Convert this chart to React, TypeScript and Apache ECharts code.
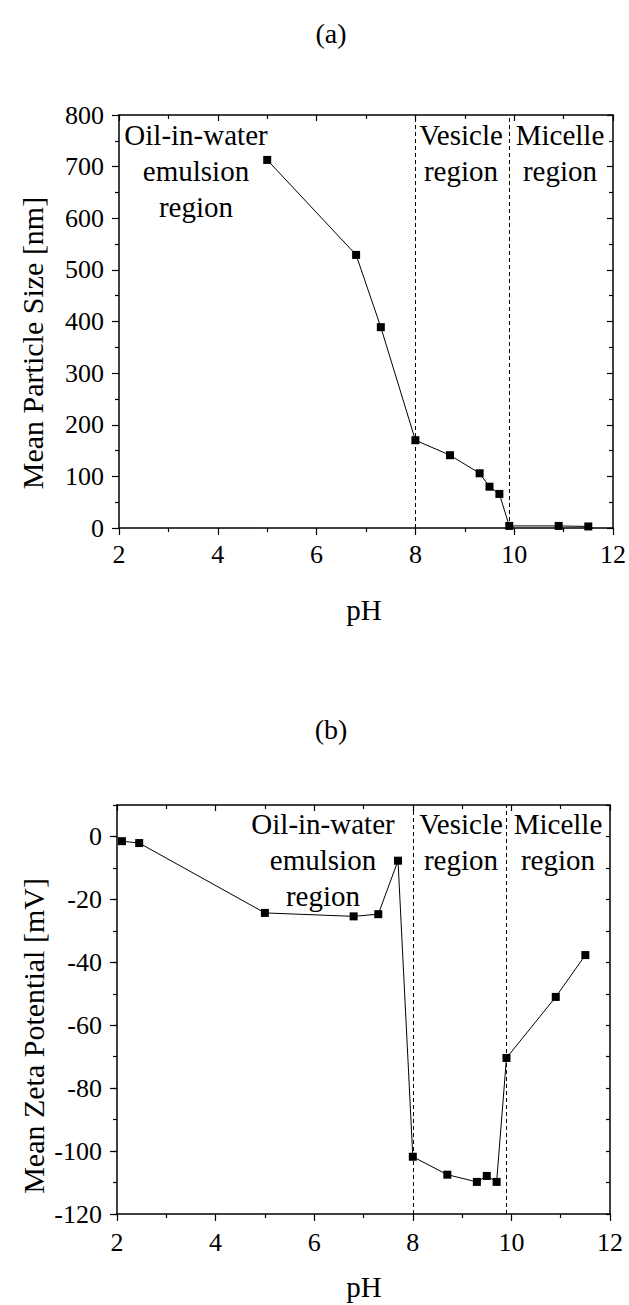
import React, { useEffect, useRef } from "react";
import * as echarts from "echarts";

const phA = [5.0, 6.8, 7.3, 8.0, 8.7, 9.3, 9.5, 9.7, 9.9, 10.9, 11.5];
const sizeA = [713, 529, 389, 170, 141, 106, 80, 66, 4, 4, 3];

const phB = [2.1, 2.45, 5.0, 6.8, 7.3, 7.7, 8.0, 8.7, 9.3, 9.5, 9.7, 9.9, 10.9, 11.5];
const zetaB = [-1.5, -2.1, -24.3, -25.4, -24.7, -7.7, -101.8, -107.5, -109.8, -107.9, -109.8, -70.4, -51.0, -37.7];

const boundaries = [8.0, 9.9];
const regionLabels = ["Oil-in-water\nemulsion\nregion", "Vesicle\nregion", "Micelle\nregion"];
const titles = ["(a)", "(b)"];
const yTitles = ["Mean Particle Size [nm]", "Mean Zeta Potential [mV]"];
const xTitle = "pH";

const FONT = "Liberation Serif";

export default function App() {
  const ref = useRef<HTMLDivElement>(null);
  useEffect(() => {
    if (!ref.current) return;
    const chart = echarts.init(ref.current, undefined, { renderer: "svg" });

    const axisLine = { show: true, onZero: false, lineStyle: { color: "#000", width: 1.5 } };
    const labelStyle = { color: "#000", fontFamily: FONT, fontSize: 26 };

    const xBottom = (gridIndex: number, margin: number) => ({
      type: "value",
      gridIndex,
      position: "bottom",
      min: 2,
      max: 12,
      interval: 2,
      axisLine,
      axisTick: { show: true, inside: false, length: 7, lineStyle: { color: "#000", width: 1.2 } },
      minorTick: { show: true, splitNumber: 2, length: 4, lineStyle: { color: "#000", width: 1.2 } },
      axisLabel: { ...labelStyle, margin },
      splitLine: { show: false },
      minorSplitLine: { show: false },
    });
    const xTop = (gridIndex: number) => ({
      type: "value",
      gridIndex,
      position: "top",
      min: 2,
      max: 12,
      interval: 2,
      axisLine,
      axisTick: { show: true, inside: true, length: 6, lineStyle: { color: "#000", width: 1.2 } },
      minorTick: { show: true, splitNumber: 2, length: 4, lineStyle: { color: "#000", width: 1.2 } },
      axisLabel: { show: false },
      splitLine: { show: false },
    });

    const option: any = {
      animation: false,
      backgroundColor: "#fff",
      grid: [
        { left: 119, right: 16, top: 115, height: 413 },
        { left: 117, right: 19, top: 805, height: 409 },
      ],
      xAxis: [xBottom(0, 13), xTop(0), xBottom(1, 15), xTop(1)],
      yAxis: [
        {
          type: "value",
          gridIndex: 0,
          position: "left",
          min: 0,
          max: 800,
          interval: 100,
          axisLine,
          axisTick: { show: true, inside: false, length: 7, lineStyle: { color: "#000", width: 1.2 } },
          minorTick: { show: true, splitNumber: 2, length: 4, lineStyle: { color: "#000", width: 1.2 } },
          axisLabel: { ...labelStyle, margin: 15 },
          splitLine: { show: false },
        },
        {
          type: "value",
          gridIndex: 0,
          position: "right",
          min: 0,
          max: 800,
          interval: 100,
          axisLine,
          axisTick: { show: true, inside: true, length: 6, lineStyle: { color: "#000", width: 1.2 } },
          minorTick: { show: true, splitNumber: 2, length: 4, lineStyle: { color: "#000", width: 1.2 } },
          axisLabel: { show: false },
          splitLine: { show: false },
        },
        {
          type: "value",
          gridIndex: 1,
          position: "left",
          min: -120,
          max: 10,
          interval: 20,
          axisLine,
          axisTick: { show: true, inside: false, length: 7, lineStyle: { color: "#000", width: 1.2 } },
          axisLabel: { ...labelStyle, margin: 15, showMaxLabel: false, formatter: (v: number) => (v > 0 ? "" : String(v)) },
          splitLine: { show: false },
        },
        {
          type: "value",
          gridIndex: 1,
          position: "left",
          min: -120,
          max: 10,
          interval: 10,
          axisLine: { show: false, onZero: false },
          axisTick: { show: true, inside: false, length: 4, lineStyle: { color: "#000", width: 1.2 } },
          axisLabel: { show: false },
          splitLine: { show: false },
        },
        {
          type: "value",
          gridIndex: 1,
          position: "right",
          min: -120,
          max: 10,
          interval: 10,
          axisLine,
          axisTick: { show: true, inside: true, length: 4, lineStyle: { color: "#000", width: 1.2 } },
          axisLabel: { show: false },
          splitLine: { show: false },
        },
      ],
      series: [
        {
          type: "line",
          xAxisIndex: 0,
          yAxisIndex: 0,
          data: phA.map((x, i) => [x, sizeA[i]]),
          symbol: "rect",
          symbolSize: 8,
          lineStyle: { color: "#000", width: 1 },
          itemStyle: { color: "#000" },
          markLine: {
            silent: true,
            symbol: "none",
            label: { show: false },
            lineStyle: { color: "#000", width: 1, type: [4, 3] },
            data: boundaries.map((b) => ({ xAxis: b })),
          },
        },
        {
          type: "line",
          xAxisIndex: 2,
          yAxisIndex: 2,
          data: phB.map((x, i) => [x, zetaB[i]]),
          symbol: "rect",
          symbolSize: 8,
          lineStyle: { color: "#000", width: 1 },
          itemStyle: { color: "#000" },
          markLine: {
            silent: true,
            symbol: "none",
            label: { show: false },
            lineStyle: { color: "#000", width: 1, type: [4, 3] },
            data: boundaries.map((b) => ({ xAxis: b })),
          },
        },
      ],
      graphic: [
        { type: "text", x: 331, y: 33, style: { text: titles[0], fontSize: 28, fontFamily: FONT, fill: "#000", align: "center", verticalAlign: "middle" } },
        { type: "text", x: 331, y: 729, style: { text: titles[1], fontSize: 28, fontFamily: FONT, fill: "#000", align: "center", verticalAlign: "middle" } },
        { type: "text", x: 32, y: 343, rotation: Math.PI / 2, style: { text: yTitles[0], fontSize: 30, fontFamily: FONT, fill: "#000", align: "center", verticalAlign: "middle" } },
        { type: "text", x: 33, y: 1036, rotation: Math.PI / 2, style: { text: yTitles[1], fontSize: 30, fontFamily: FONT, fill: "#000", align: "center", verticalAlign: "middle" } },
        { type: "text", x: 364, y: 610, style: { text: xTitle, fontSize: 29, fontFamily: FONT, fill: "#000", align: "center", verticalAlign: "middle" } },
        { type: "text", x: 364, y: 1287, style: { text: xTitle, fontSize: 29, fontFamily: FONT, fill: "#000", align: "center", verticalAlign: "middle" } },
        { type: "text", x: 196, y: 117, style: { text: regionLabels[0], fontSize: 29, lineHeight: 36, fontFamily: FONT, fill: "#000", align: "center", verticalAlign: "top" } },
        { type: "text", x: 461, y: 117, style: { text: regionLabels[1], fontSize: 29, lineHeight: 36, fontFamily: FONT, fill: "#000", align: "center", verticalAlign: "top" } },
        { type: "text", x: 560, y: 117, style: { text: regionLabels[2], fontSize: 29, lineHeight: 36, fontFamily: FONT, fill: "#000", align: "center", verticalAlign: "top" } },
        { type: "text", x: 323, y: 806, style: { text: regionLabels[0], fontSize: 29, lineHeight: 36, fontFamily: FONT, fill: "#000", align: "center", verticalAlign: "top" } },
        { type: "text", x: 461, y: 806, style: { text: regionLabels[1], fontSize: 29, lineHeight: 36, fontFamily: FONT, fill: "#000", align: "center", verticalAlign: "top" } },
        { type: "text", x: 558, y: 806, style: { text: regionLabels[2], fontSize: 29, lineHeight: 36, fontFamily: FONT, fill: "#000", align: "center", verticalAlign: "top" } },
      ],
    };
    chart.setOption(option);
    return () => chart.dispose();
  }, []);

  return <div ref={ref} style={{ position: "absolute", left: 0, top: 0, width: 629, height: 1305, background: "#fff" }} />;
}
